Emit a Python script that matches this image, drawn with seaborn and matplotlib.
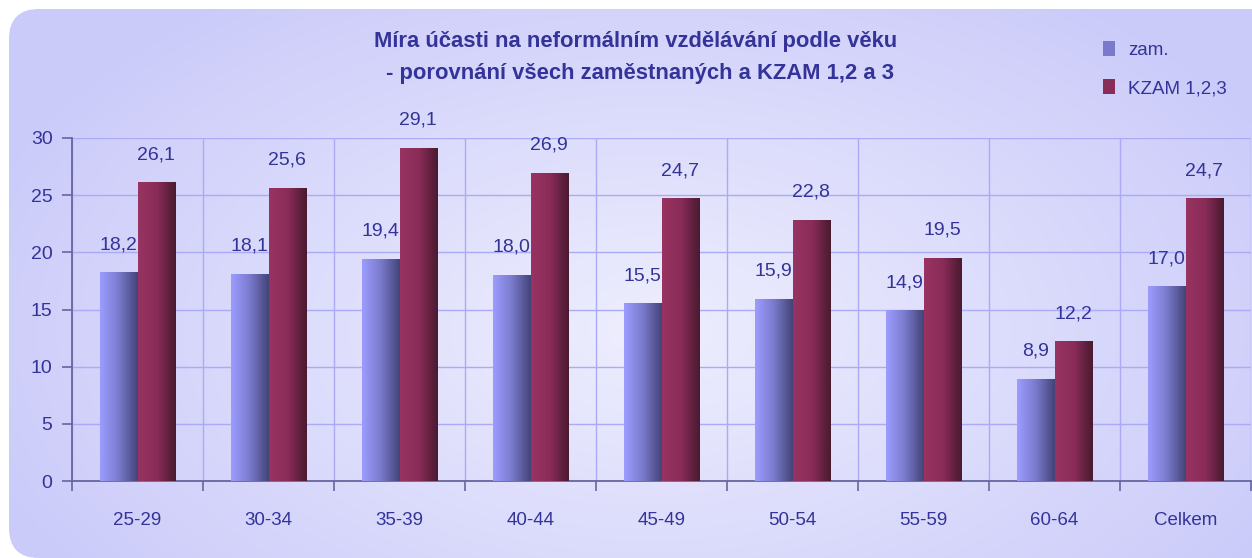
import numpy as np
import pandas as pd
import matplotlib
matplotlib.use('Agg')
import matplotlib.pyplot as plt
import seaborn as sns
from matplotlib.patches import FancyBboxPatch, Patch
from matplotlib.colors import LinearSegmentedColormap

# Data
kategorie = ['25-29', '30-34', '35-39', '40-44', '45-49', '50-54', '55-59', '60-64', 'Celkem']
zam = [18.2, 18.1, 19.4, 18.0, 15.5, 15.9, 14.9, 8.9, 17.0]
kzam = [26.1, 25.6, 29.1, 26.9, 24.7, 22.8, 19.5, 12.2, 24.7]
serie = ['zam.', 'KZAM 1,2,3']

df = pd.DataFrame({
    'vek': kategorie * 2,
    'skupina': [serie[0]] * len(zam) + [serie[1]] * len(kzam),
    'hodnota': zam + kzam,
})

sns.set_style('white')
plt.rcParams['font.family'] = ['Liberation Sans', 'DejaVu Sans']

text_col = '#333399'
grid_col = '#aaaaf6'
axis_col = '#66669e'

cm_blue = LinearSegmentedColormap.from_list('b', ['#9c9cff', '#7a7acc', '#44447a'])
cm_red = LinearSegmentedColormap.from_list('r', ['#983362', '#8a2c58', '#4a1a30'])

W, H = 1252, 558
fig = plt.figure(figsize=(W / 100, H / 100), dpi=100)

# pozadi - zaoblený obdélník s radiálním přechodem
bg = fig.add_axes([0, 0, 1, 1])
bg.set_axis_off()
bg.set_xlim(0, W)
bg.set_ylim(H, 0)
yy, xx = np.mgrid[0:H, 0:W]
r = np.clip(np.hypot((xx - 650) / 720, (yy - 330) / 420), 0, 1)
bg_cmap = LinearSegmentedColormap.from_list('bg', ['#eeeefe', '#dcdcfc', '#cbcbfa'])
im = bg.imshow(r, cmap=bg_cmap, extent=[0, W, H, 0], aspect='auto')
box = FancyBboxPatch((9, 9), W + 60, H - 9, boxstyle='round,pad=0,rounding_size=30',
                     transform=bg.transData, fc='none', ec='none')
bg.add_patch(box)
im.set_clip_path(box)

# graf
ax = fig.add_axes([72 / W, 1 - 481 / H, (1251 - 72) / W, (481 - 138) / H])
ax.patch.set_alpha(0)
sns.barplot(data=df, x='vek', y='hodnota', hue='skupina', palette=['#7a7acc', '#8a2c58'],
            width=0.57, gap=0, saturation=1, legend=False, ax=ax)

for cont, cm in zip(ax.containers, [cm_blue, cm_red]):
    for bar in cont:
        x0, w, h = bar.get_x(), bar.get_width(), bar.get_height()
        ax.imshow(np.linspace(0, 1, 64).reshape(1, -1), cmap=cm, extent=[x0, x0 + w, 0, h],
                  aspect='auto', zorder=3)
        bar.set_facecolor('none')
        bar.set_edgecolor('none')
        ax.annotate(f'{h:.1f}'.replace('.', ','), (x0 + w / 2, h), xytext=(0, 14),
                    textcoords='offset points', ha='center', va='bottom',
                    fontsize=14, color=text_col)

ax.set_xlim(-0.5, len(kategorie) - 0.5)
ax.set_ylim(0, 30)
ax.set_yticks(range(0, 31, 5))
ax.set_xticks(range(len(kategorie)))
ax.set_xticklabels(kategorie)
ax.set_xticks(np.arange(-0.5, len(kategorie), 1), minor=True)
ax.set_xlabel('')
ax.set_ylabel('')
ax.set_axisbelow(True)
ax.grid(which='minor', axis='x', color=grid_col, lw=1)
ax.grid(which='major', axis='y', color=grid_col, lw=1)
ax.grid(which='major', axis='x', visible=False)
ax.tick_params(axis='x', which='major', length=0, pad=22, labelsize=13.5, labelcolor=text_col)
ax.tick_params(axis='x', which='minor', length=7, width=1.2, color=axis_col, direction='out', bottom=True)
ax.tick_params(axis='y', length=7, width=1.2, color=axis_col, direction='out', left=True,
               pad=7, labelsize=14, labelcolor=text_col)
for s in ['top', 'right']:
    ax.spines[s].set_visible(False)
for s in ['left', 'bottom']:
    ax.spines[s].set_color(axis_col)
    ax.spines[s].set_linewidth(1.3)

# titulek
fig.text(636 / W, 1 - 42 / H, 'Míra účasti na neformálním vzdělávání podle věku',
         ha='center', va='center', fontsize=15.8, weight='bold', color=text_col)
fig.text(640 / W, 1 - 74 / H, '- porovnání všech zaměstnaných a KZAM 1,2 a 3',
         ha='center', va='center', fontsize=15.8, weight='bold', color=text_col)

# legenda
handles = [Patch(fc='#7a7acc', ec='none'), Patch(fc='#8a2c58', ec='none')]
fig.legend(handles, serie, loc='upper left', bbox_to_anchor=(1086 / W, 1 - 24 / H),
           frameon=False, handlelength=0.64, handleheight=0.85, handletextpad=0.7,
           labelspacing=1.1, fontsize=13.5, labelcolor=text_col)

fig.savefig('out.png', dpi=100)
